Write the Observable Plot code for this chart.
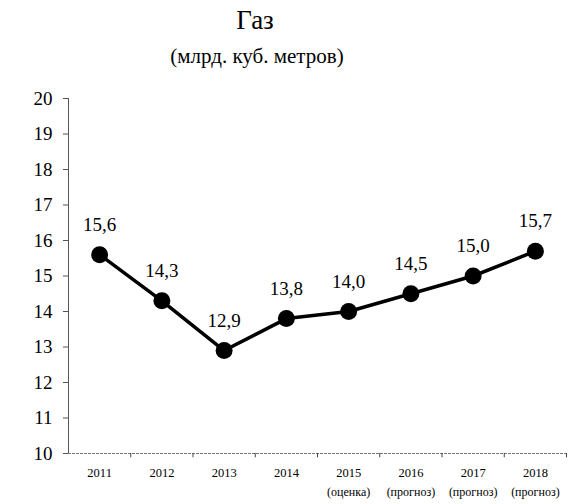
<!DOCTYPE html>
<html>
<head>
<meta charset="utf-8">
<script src="https://cdn.jsdelivr.net/npm/d3@7"></script>
<script src="https://cdn.jsdelivr.net/npm/@observablehq/plot@0.6"></script>
</head>
<body style="margin:0;background:#fff;font-family:'Liberation Serif'">
<div id="wrap" style="width:579px;font-family:'Liberation Serif'">
  <div style="height:38px;text-align:center;font-size:27px;line-height:40px;width:510px;font-family:'Liberation Serif'">Газ</div>
  <div style="height:38px;text-align:center;font-size:21px;line-height:36px;width:514px;font-family:'Liberation Serif'">(млрд. куб. метров)</div>
  <div id="chart"></div>
</div>
<script>
const years = [2011, 2012, 2013, 2014, 2015, 2016, 2017, 2018];
const values = [15.6, 14.3, 12.9, 13.8, 14.0, 14.5, 15.0, 15.7];
const labels = ["15,6", "14,3", "12,9", "13,8", "14,0", "14,5", "15,0", "15,7"];
const notes = ["", "", "", "", "(оценка)", "(прогноз)", "(прогноз)", "(прогноз)"];
const yTicks = [10, 11, 12, 13, 14, 15, 16, 17, 18, 19, 20];

const data = years.map((y, i) => ({year: y, value: values[i], label: labels[i], note: notes[i]}));
const bounds = years.map(y => y + 0.5);

const chart = Plot.plot({
  width: 579,
  height: 428,
  marginTop: 22,
  marginBottom: 51,
  marginLeft: 68,
  marginRight: 13,
  style: {fontFamily: "Liberation Serif", background: "#fff"},
  x: {type: "linear", domain: [2010.5, 2018.5], axis: null},
  y: {type: "linear", domain: [10, 20], axis: null},
  marks: [
    Plot.ruleX([2010.5], {y1: 10, y2: 20, stroke: "#555", strokeWidth: 1}),
    Plot.ruleY([10], {x1: 2010.5, x2: 2018.5, stroke: "#777", strokeWidth: 1, strokeDasharray: "3,1"}),
    Plot.axisY({ticks: yTicks, tickSize: 5, tickPadding: 11, fontSize: 19, stroke: "#555", tickFormat: d => String(d), color: "#000", label: null}),
    Plot.ruleX(bounds, {x: d => d, y1: 10, y2: 9.88, stroke: "#444", strokeWidth: 1}),
    Plot.text(data, {x: "year", y: 10, text: d => String(d.year), dy: 19, fontSize: 12.5, fill: "#000"}),
    Plot.text(data, {x: "year", y: 10, text: "note", dy: 39, fontSize: 12, fill: "#000"}),
    Plot.line(data, {x: "year", y: "value", stroke: "#000", strokeWidth: 3.5, curve: "linear"}),
    Plot.dot(data, {x: "year", y: "value", r: 8.5, fill: "#000", stroke: "none"}),
    Plot.text(data, {x: "year", y: "value", text: "label", dy: -30, fontSize: 19, fill: "#000"})
  ]
});
chart.querySelectorAll("text").forEach(t => t.setAttribute("font-family", "Liberation Serif"));
document.getElementById("chart").appendChild(chart);
</script>
</body>
</html>
